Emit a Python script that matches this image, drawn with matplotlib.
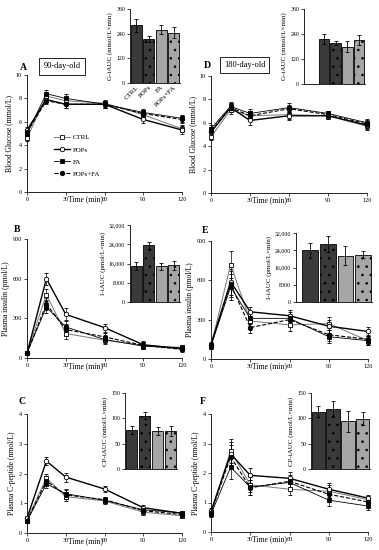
import numpy as np
import matplotlib
matplotlib.use("Agg")
import matplotlib.pyplot as plt
from matplotlib.lines import Line2D

plt.rcParams['font.family'] = ['Liberation Serif', 'DejaVu Serif']
plt.rcParams['hatch.color'] = 'white'
plt.rcParams['hatch.linewidth'] = 0.6

# time points (min)
time = [0, 15, 30, 60, 90, 120]
groups = ['CTRL', 'POPs', 'FA', 'POPs+FA']

# blood glucose (mmol/L)
glu90 = {'CTRL': [4.6, 8.2, 7.8, 7.6, 6.6, 5.4],
         'POPs': [5.3, 7.9, 7.5, 7.5, 6.2, 5.3],
         'FA': [5.0, 8.4, 8.0, 7.5, 6.8, 6.3],
         'POPs+FA': [5.1, 7.8, 7.5, 7.5, 6.7, 6.2]}
glu90_err = [0.25, 0.3, 0.35, 0.3, 0.3, 0.3]
glu180 = {'CTRL': [4.8, 7.1, 6.6, 6.7, 6.6, 5.7],
          'POPs': [5.2, 7.3, 6.2, 6.6, 6.6, 5.8],
          'FA': [5.5, 7.4, 6.8, 7.3, 6.8, 6.0],
          'POPs+FA': [5.3, 7.3, 6.6, 7.2, 6.7, 5.9]}
glu180_err = [0.3, 0.35, 0.4, 0.35, 0.25, 0.3]

# plasma insulin (pmol/L)
ins90 = {'CTRL': [40, 480, 185, 135, 95, 80],
         'POPs': [35, 600, 330, 230, 100, 70],
         'FA': [40, 385, 235, 140, 90, 75],
         'POPs+FA': [35, 410, 215, 160, 95, 65]}
ins90_err = [15, 45, 45, 30, 25, 20]
ins180 = {'CTRL': [100, 720, 290, 260, 270, 140],
          'POPs': [110, 590, 360, 330, 250, 210],
          'FA': [100, 550, 310, 310, 170, 140],
          'POPs+FA': [105, 570, 240, 300, 185, 150]}
ins180_err = [20, 100, 40, 45, 50, 35]

# plasma C-peptide (nmol/L)
cp90 = {'CTRL': [0.45, 1.85, 1.22, 1.08, 0.70, 0.58],
        'POPs': [0.50, 2.42, 1.88, 1.48, 0.85, 0.66],
        'FA': [0.40, 1.65, 1.32, 1.10, 0.78, 0.68],
        'POPs+FA': [0.42, 1.75, 1.28, 1.12, 0.75, 0.62]}
cp90_err = [0.08, 0.15, 0.15, 0.1, 0.08, 0.06]
cp180 = {'CTRL': [0.65, 2.75, 1.60, 1.45, 1.38, 1.10],
         'POPs': [0.70, 2.65, 1.92, 1.82, 1.45, 1.15],
         'FA': [0.60, 2.20, 1.52, 1.68, 1.08, 0.88],
         'POPs+FA': [0.66, 2.55, 1.50, 1.72, 1.28, 1.02]}
cp180_err = [0.1, 0.4, 0.25, 0.2, 0.2, 0.12]

# incremental AUC insets
gauc90 = [280, 215, 260, 245]
gauc90_err = [30, 15, 20, 25]
gauc180 = [215, 195, 180, 210]
gauc180_err = [25, 10, 25, 25]
iauc90 = [15000, 23500, 14800, 15200]
iauc90_err = [1800, 1500, 1500, 1700]
iauc180 = [24000, 27000, 21500, 22000]
iauc180_err = [3500, 3800, 4500, 1500]
cpauc90 = [77, 105, 75, 75]
cpauc90_err = [8, 7, 8, 10]
cpauc180 = [113, 118, 94, 99]
cpauc180_err = [11, 16, 20, 13]

styles = {
    'CTRL': dict(marker='s', mfc='white', color='#777777', ls='-', lw=0.7),
    'POPs': dict(marker='o', mfc='white', color='black', ls='-', lw=1.0),
    'FA': dict(marker='s', mfc='black', color='black', ls='-', lw=0.6),
    'POPs+FA': dict(marker='o', mfc='black', color='black', ls='--', lw=0.8),
}
bar_colors = ['#3a3a3a', '#3a3a3a', '#a6a6a6', '#a6a6a6']
bar_hatch = [None, '..', None, '..']

W, H = 379, 550
fig = plt.figure(figsize=(W / 100, H / 100), dpi=100)


def px_axes(x0, x1, ytop, ybot):
    return fig.add_axes([x0 / W, 1 - ybot / H, (x1 - x0) / W, (ybot - ytop) / H])


def main_panel(box, data, err, ylim, yticks, ylabel, letter, lpos):
    ax = px_axes(*box)
    for g in groups:
        st = styles[g]
        ax.errorbar(time, data[g], yerr=err, color=st['color'], ls=st['ls'], lw=st['lw'],
                    marker=st['marker'], mfc=st['mfc'], mec='black', ms=3.2, mew=0.6,
                    ecolor='black', elinewidth=0.5, capsize=1.2, capthick=0.5,
                    clip_on=False, zorder=3)
    ax.set_xlim(0, 120)
    ax.set_ylim(*ylim)
    ax.set_xticks([0, 30, 60, 90, 120])
    ax.set_yticks(yticks)
    ax.tick_params(labelsize=4.5, length=2, width=0.5, pad=1.5)
    ax.spines['top'].set_visible(False)
    ax.spines['right'].set_visible(False)
    for s in ('left', 'bottom'):
        ax.spines[s].set_linewidth(0.6)
    ax.set_ylabel(ylabel, fontsize=5.5, labelpad=2)
    ax.text(45, ylim[0] - (ylim[1] - ylim[0]) * 0.065, 'Time (min)', fontsize=5.5,
            ha='center', va='center')
    fig.text(lpos[0] / W, 1 - lpos[1] / H, letter, fontsize=7, fontweight='bold',
             ha='center', va='center')
    return ax


def inset(box, vals, errs, ylim, yticks, ylabel, ticklabels=None, pad=0.0, xlabels=False):
    ax = px_axes(*box)
    x = np.arange(len(vals))
    ax.bar(x, vals, width=0.9, color=bar_colors, edgecolor='black', linewidth=0.6,
           hatch=bar_hatch)
    ax.errorbar(x, vals, yerr=errs, fmt='none', ecolor='black', elinewidth=0.6,
                capsize=1.5, capthick=0.6)
    ax.set_xlim(-0.5 - pad, 3.5)
    ax.set_ylim(*ylim)
    ax.set_yticks(yticks)
    if ticklabels:
        ax.set_yticklabels(ticklabels)
    if xlabels:
        ax.set_xticks(x)
        ax.set_xticklabels(groups, rotation=45, ha='right', fontsize=5, rotation_mode='anchor')
    else:
        ax.set_xticks([])
    ax.tick_params(axis='y', labelsize=4.2, length=2, width=0.5, pad=1.5)
    ax.tick_params(axis='x', length=0, pad=1)
    ax.spines['top'].set_visible(False)
    ax.spines['right'].set_visible(False)
    for s in ('left', 'bottom'):
        ax.spines[s].set_linewidth(0.6)
    ax.set_ylabel(ylabel, fontsize=5, labelpad=2)
    return ax


# glucose panels
axA = main_panel((27, 182, 75, 192), glu90, glu90_err, (0, 10), [0, 2, 4, 6, 8, 10],
                 'Blood Glucose (mmol/L)', 'A', (23, 67))
main_panel((211, 367, 76, 193), glu180, glu180_err, (0, 10), [0, 2, 4, 6, 8, 10],
           'Blood Glucose (mmol/L)', 'D', (207, 65))
handles = [Line2D([], [], color=styles[g]['color'], ls=styles[g]['ls'], lw=styles[g]['lw'],
                  marker=styles[g]['marker'], mfc=styles[g]['mfc'], mec='black',
                  ms=3.2, mew=0.6) for g in groups]
axA.legend(handles, groups, loc='upper left', bbox_to_anchor=(0.15, 0.52), fontsize=5,
           frameon=False, handlelength=2.4, handletextpad=0.3, labelspacing=0.9, borderpad=0)

# age boxes
for (x0, x1, y0, y1, t) in [(39, 85, 58, 75, '90-day-old'), (220, 269, 57, 73, '180-day-old')]:
    fig.text((x0 + x1) / 2 / W, 1 - (y0 + y1) / 2 / H, t, fontsize=6, ha='center', va='center',
             bbox=dict(boxstyle='square,pad=0.5', fc='white', ec='black', lw=0.6))

# insulin panels
main_panel((27, 182, 239, 358), ins90, ins90_err, (0, 900), [0, 300, 600, 900],
           'Plasma insulin (pmol/L)', 'B', (17, 229))
main_panel((211, 368, 241, 359), ins180, ins180_err, (0, 900), [0, 300, 600, 900],
           'Plasma insulin (pmol/L)', 'E', (205, 231))

# C-peptide panels
main_panel((27, 182, 414, 533), cp90, cp90_err, (0, 4), [0, 1, 2, 3, 4],
           'Plasma C-peptide (nmol/L)', 'C', (22, 402))
main_panel((211, 368, 414, 532), cp180, cp180_err, (0, 4), [0, 1, 2, 3, 4],
           'Plasma C-peptide (nmol/L)', 'F', (203, 402))

# insets
inset((130, 180, 9, 83), gauc90, gauc90_err, (0, 360), [0, 120, 240, 360],
      'G-iAUC (mmol/L×min)', xlabels=True)
inset((304, 365, 9, 84), gauc180, gauc180_err, (0, 360), [0, 120, 240, 360],
      'G-iAUC (mmol/L×min)', pad=1.2)
ins_ticks = [0, 8000, 16000, 24000, 32000]
ins_lbls = ['0', '8000', '16,000', '24,000', '32,000']
inset((130, 180, 225, 302), iauc90, iauc90_err, (0, 32000), ins_ticks,
      'I-iAUC (pmol/L×min)', ticklabels=ins_lbls)
inset((296, 372, 233, 302), iauc180, iauc180_err, (0, 32000), ins_ticks,
      'I-iAUC (pmol/L×min)', ticklabels=ins_lbls, pad=0.3)
inset((125, 177, 393, 469), cpauc90, cpauc90_err, (0, 150), [0, 50, 100, 150],
      'CP-iAUC (nmol/L×min)')
inset((311, 370, 393, 469), cpauc180, cpauc180_err, (0, 150), [0, 50, 100, 150],
      'CP-iAUC (nmol/L×min)')

fig.savefig('out.png', dpi=100)
